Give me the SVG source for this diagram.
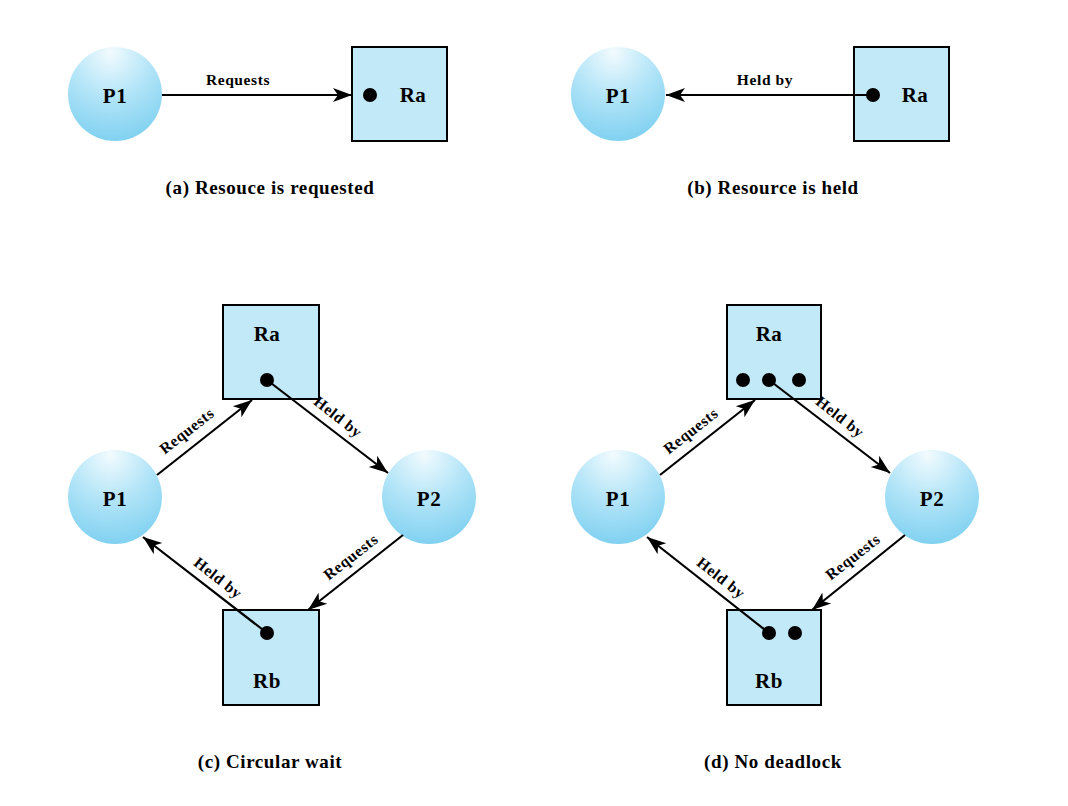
<svg xmlns="http://www.w3.org/2000/svg" width="1068" height="806" viewBox="0 0 1068 806">
<style>
.proc{fill:url(#ball);}
.res{fill:#c2e9f8;stroke:#000;stroke-width:2;}
.dot{fill:#000;}
.lbl{font-family:"Liberation Serif","Times New Roman",serif;font-weight:bold;font-size:21px;text-anchor:middle;fill:#000;letter-spacing:0.5px;}
.elbl{font-family:"Liberation Serif","Times New Roman",serif;font-weight:bold;font-size:15.5px;text-anchor:middle;fill:#000;letter-spacing:0.6px;}
.cap{font-family:"Liberation Serif","Times New Roman",serif;font-weight:bold;font-size:19px;text-anchor:middle;fill:#000;letter-spacing:0.6px;}
.edge{stroke:#000;stroke-width:2.2;fill:none;marker-end:url(#arr);}
</style>
<defs>
<radialGradient id="ball" cx="0.45" cy="0.15" r="0.95" fx="0.45" fy="0.05">
<stop offset="0" stop-color="#f2fbfe"/>
<stop offset="0.45" stop-color="#b4e5f8"/>
<stop offset="1" stop-color="#76cdef"/>
</radialGradient>
<marker id="arr" markerUnits="userSpaceOnUse" markerWidth="20" markerHeight="16" viewBox="0 0 20 16" refX="19" refY="8" orient="auto">
<path d="M0,1 L19,8 L0,15 L5,8 z" fill="#000"/>
</marker>
</defs>
<rect width="1068" height="806" fill="#fff"/>

<!-- panel a -->
<g id="a-P1"><circle class="proc" cx="115" cy="94" r="47"/><text class="lbl" x="115" y="103">P1</text></g>
<g id="a-Ra"><rect class="res" x="352" y="47" width="95" height="94"/><circle class="dot" cx="370" cy="95" r="7"/><text class="lbl" x="413" y="102">Ra</text></g>
<text class="cap" x="270" y="194">(a) Resouce is requested</text>

<!-- panel b -->
<g id="b-P1"><circle class="proc" cx="618" cy="94" r="47"/><text class="lbl" x="618" y="103">P1</text></g>
<g id="b-Ra"><rect class="res" x="854" y="47" width="95" height="94"/><circle class="dot" cx="873" cy="95" r="7"/><text class="lbl" x="915" y="102">Ra</text></g>
<text class="cap" x="773" y="194">(b) Resource is held</text>

<!-- panel c -->
<g id="c-Ra"><rect class="res" x="223" y="305" width="96" height="94"/><text class="lbl" x="267" y="341">Ra</text><circle class="dot" cx="267" cy="380" r="7"/></g>
<g id="c-Rb"><rect class="res" x="223" y="610" width="96" height="95"/><circle class="dot" cx="267" cy="633" r="7"/><text class="lbl" x="267" y="688">Rb</text></g>
<g id="c-P1"><circle class="proc" cx="115" cy="497" r="47"/><text class="lbl" x="115" y="506">P1</text></g>
<g id="c-P2"><circle class="proc" cx="429" cy="497" r="47"/><text class="lbl" x="429" y="506">P2</text></g>
<text class="cap" x="270" y="768">(c) Circular wait</text>

<!-- panel d -->
<g id="d-Ra"><rect class="res" x="727" y="305" width="94" height="94"/><text class="lbl" x="769" y="341">Ra</text><circle class="dot" cx="743" cy="380" r="7"/><circle class="dot" cx="769" cy="380" r="7"/><circle class="dot" cx="799" cy="380" r="7"/></g>
<g id="d-Rb"><rect class="res" x="727" y="610" width="94" height="95"/><circle class="dot" cx="769" cy="633" r="7"/><circle class="dot" cx="795" cy="633" r="7"/><text class="lbl" x="769" y="688">Rb</text></g>
<g id="d-P1"><circle class="proc" cx="618" cy="497" r="47"/><text class="lbl" x="618" y="506">P1</text></g>
<g id="d-P2"><circle class="proc" cx="932" cy="497" r="47"/><text class="lbl" x="932" y="506">P2</text></g>
<text class="cap" x="773" y="768">(d) No deadlock</text>

<g id="edges">
<!-- a -->
<line class="edge" x1="162" y1="95" x2="352" y2="95"/>
<!-- b -->
<line class="edge" x1="873" y1="95" x2="666" y2="95"/>
<!-- c -->
<line class="edge" x1="157" y1="475" x2="252" y2="400"/>
<line class="edge" x1="267" y1="380" x2="388" y2="473"/>
<line class="edge" x1="403" y1="535" x2="308" y2="610"/>
<line class="edge" x1="267" y1="633" x2="143" y2="537"/>
<!-- d -->
<line class="edge" x1="660" y1="475" x2="755" y2="400"/>
<line class="edge" x1="769" y1="380" x2="890" y2="473"/>
<line class="edge" x1="905" y1="535" x2="812" y2="610"/>
<line class="edge" x1="769" y1="633" x2="647" y2="537"/>
</g>

<g id="edge-labels">
<text class="elbl" x="238" y="85">Requests</text>
<text class="elbl" x="765" y="85">Held by</text>
<text class="elbl" transform="translate(187,431) rotate(-38)" y="5">Requests</text>
<text class="elbl" transform="translate(338,417) rotate(38)" y="5">Held by</text>
<text class="elbl" transform="translate(351,557) rotate(-38)" y="5">Requests</text>
<text class="elbl" transform="translate(218,578) rotate(38)" y="5">Held by</text>
<text class="elbl" transform="translate(691,431) rotate(-38)" y="5">Requests</text>
<text class="elbl" transform="translate(840,417) rotate(38)" y="5">Held by</text>
<text class="elbl" transform="translate(853,557) rotate(-38)" y="5">Requests</text>
<text class="elbl" transform="translate(721,578) rotate(38)" y="5">Held by</text>
</g>
</svg>
